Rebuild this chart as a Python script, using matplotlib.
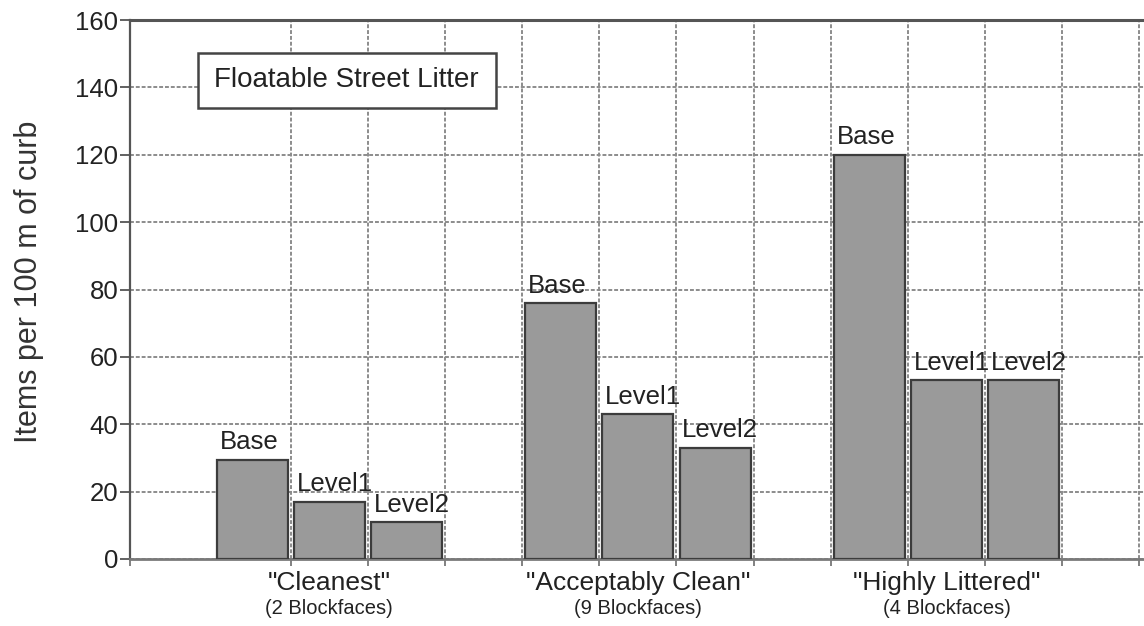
import matplotlib
matplotlib.use('Agg')
import matplotlib.pyplot as plt
from matplotlib.patches import Rectangle

categories = ['"Cleanest"', '"Acceptably Clean"', '"Highly Littered"']
subtitles = ['(2 Blockfaces)', '(9 Blockfaces)', '(4 Blockfaces)']
levels = ['Base', 'Level1', 'Level2']
base_vals = [29.5, 76, 120]
level1_vals = [17, 43, 53]
level2_vals = [11, 33, 53]
yticks = [0, 20, 40, 60, 80, 100, 120, 140, 160]
title = 'Floatable Street Litter'
ylabel = 'Items per 100 m of curb'

plt.rcParams['font.family'] = ['Liberation Sans', 'DejaVu Sans']

W, H = 1144, 626
fig = plt.figure(figsize=(W / 100, H / 100), dpi=100)
ax = fig.add_axes([130 / W, 1 - 559 / H, (W - 130) / W, 539 / H])

xmin, xmax = -0.583, 12.56
bar_w = 0.92
bar_face = '#9a9a9a'
bar_edge = '#3c3c3c'

series = [base_vals, level1_vals, level2_vals]
for g in range(len(categories)):
    for k, (lab, vals) in enumerate(zip(levels, series)):
        x = g * 4 + 1 + k
        v = vals[g]
        ax.bar(x, v, width=bar_w, color=bar_face, edgecolor=bar_edge,
               linewidth=1.6, zorder=3)
        ax.annotate(lab, xy=(x - bar_w / 2, v), xytext=(2, 7.5),
                    textcoords='offset points', ha='left', va='baseline',
                    fontsize=18.5, color='#222222', zorder=4)
    cx = g * 4 + 2
    ax.text(cx, -7.2, categories[g], ha='center', va='center', fontsize=19,
            color='#222222', clip_on=False)
    ax.text(cx, -14.6, subtitles[g], ha='center', va='center', fontsize=14.5,
            color='#222222', clip_on=False)

ax.set_xlim(xmin, xmax)
ax.set_ylim(0, 160)
ax.set_yticks(yticks)
ax.set_yticklabels([str(t) for t in yticks])

grid_x = [xmin] + [i + 0.5 for i in range(1, 13)]
ax.set_xticks(grid_x)
ax.set_xticklabels([])
ax.set_axisbelow(True)
ax.grid(True, color='#8c8c8c', linewidth=1.4, linestyle=(0, (2, 1)))

ax.tick_params(axis='y', direction='out', length=7, width=1.3, colors='#555555',
               labelsize=18.5, labelcolor='#222222', pad=1.5)
ax.tick_params(axis='x', direction='out', length=5, width=1.3, colors='#777777')

ax.spines['right'].set_visible(False)
ax.spines['top'].set_color('#555555')
ax.spines['top'].set_linewidth(2.2)
ax.spines['left'].set_color('#555555')
ax.spines['left'].set_linewidth(1.6)
ax.spines['bottom'].set_color('#7a7a7a')
ax.spines['bottom'].set_linewidth(2.0)

# title box
ax.add_patch(Rectangle((198 / W, 1 - 108 / H), (496 - 198) / W, 55 / H,
                       transform=fig.transFigure, facecolor='white',
                       edgecolor='#444444', linewidth=1.8, zorder=5,
                       clip_on=False))
ax.text(214 / W, 1 - 80 / H, title, transform=fig.transFigure, ha='left',
        va='center', fontsize=20, color='#222222', zorder=6)

fig.text(29 / W, 1 - 282 / H, ylabel, rotation=90, ha='center', va='center',
         fontsize=22, color='#333333')

fig.savefig('out.png', dpi=100)
